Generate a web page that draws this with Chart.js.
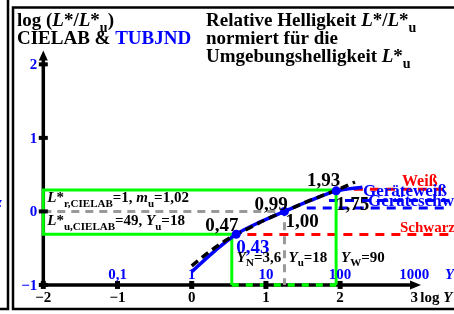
<!DOCTYPE html>
<html>
<head>
<meta charset="utf-8">
<script src="https://cdn.jsdelivr.net/npm/chart.js@4"></script>
<style>
  body { margin: 0; background: #fff; }
  canvas { display: block; }
</style>
</head>
<body>
<canvas id="myChart" width="454" height="314"></canvas>
<script>
// log Y (x) and log(L*/L*u) (y)
var cielabX = [0, 0.25, 0.5, 0.75, 1, 1.25, 1.5, 1.75, 2, 2.2];
var cielabY = [-0.74, -0.54, -0.37, -0.24, -0.11, 0.0, 0.11, 0.21, 0.31, 0.40];

var tubX = [0, 0.32, 0.6, 0.93, 1.25, 1.6, 1.95, 2.3];
var tubY = [-0.82, -0.53, -0.31, -0.14, 0.0, 0.15, 0.28, 0.33];

var markX = [0.6, 1.25, 1.946];
var markY = [-0.31, 0.0, 0.28];

var logYN = 0.54, logYu = 1.25, logYW = 1.946;
var lowLevel = -0.31, midLevel = 0, highLevel = 0.29;
var redWhite = 0.30, redBlack = -0.315, blueWhite = 0.15, blueBlack = 0.046;

var xTicks = [-2, -1, 0, 1, 2, 3];
var xTickLabels = ['\u22122', '\u22121', '0', '1', '2', '3'];
var yTicks = [-1, 0, 1, 2];
var yTickLabels = ['\u22121', '0', '1', '2'];
var yValPos = [-1, 0, 1, 2, 3];
var yValLabels = ['0,1', '1', '10', '100', '1000'];

var upperVals = ['0,47', '0,99', '1,93'];
var lowerVals = ['0,43', '1,00', '1,75'];

var X_MIN = -2.523, X_MAX = 3.474, Y_MIN = -1.334, Y_MAX = 2.814;
var FONT = '"Liberation Serif", "DejaVu Serif", serif';

function pts(xs, ys) {
    return xs.map(function (x, i) { return {x: x, y: ys[i]}; });
}

function lineSet(data, color, width, dash) {
    return {
        data: data, showLine: true, borderColor: color, borderWidth: width,
        borderDash: dash || [], pointRadius: 0, fill: false, tension: 0
    };
}

// "|" toggles italic, "_{..}" is a subscript
function parse(str) {
    var out = [], it = false, buf = '', i = 0;
    while (i < str.length) {
        var ch = str[i];
        if (ch === '|') {
            if (buf) out.push({t: buf, i: it});
            buf = ''; it = !it; i++;
        } else if (ch === '_' && str[i + 1] === '{') {
            if (buf) out.push({t: buf, i: it});
            buf = '';
            var j = str.indexOf('}', i);
            out.push({t: str.slice(i + 2, j), sub: true});
            i = j + 1;
        } else { buf += ch; i++; }
    }
    if (buf) out.push({t: buf, i: it});
    return out;
}

function rich(ctx, x, y, str, size, color) {
    var cx = x;
    ctx.save();
    ctx.textAlign = 'left';
    ctx.textBaseline = 'alphabetic';
    parse(str).forEach(function (p) {
        var s = p.sub ? Math.round(size * 0.72) : size;
        ctx.font = (p.i ? 'italic ' : '') + 'bold ' + s + 'px ' + FONT;
        ctx.fillStyle = color;
        ctx.fillText(p.t, cx, y + (p.sub ? size * 0.3 : 0));
        cx += ctx.measureText(p.t).width;
    });
    ctx.restore();
    return cx;
}

var annotations = {
    id: 'annotations',
    afterDatasetsDraw: function (chart) {
        var ctx = chart.ctx;
        var X = function (v) { return chart.scales.x.getPixelForValue(v); };
        var Y = function (v) { return chart.scales.y.getPixelForValue(v); };
        ctx.save();

        // frames
        ctx.strokeStyle = '#000';
        ctx.lineWidth = 2.5;
        ctx.beginPath();
        ctx.moveTo(8, 0); ctx.lineTo(8, 309); ctx.lineTo(0, 309);
        ctx.moveTo(454, 7.5); ctx.lineTo(13, 7.5); ctx.lineTo(13, 309); ctx.lineTo(454, 309);
        ctx.stroke();

        // arrow heads and ticks
        ctx.fillStyle = '#000';
        ctx.beginPath();
        ctx.moveTo(X(-2), Y(2.19));
        ctx.lineTo(X(-2) - 4.5, Y(2.19) + 10);
        ctx.lineTo(X(-2) + 4.5, Y(2.19) + 10);
        ctx.fill();
        ctx.beginPath();
        ctx.moveTo(X(3.09), Y(-1));
        ctx.lineTo(X(3.09) - 11, Y(-1) - 4.5);
        ctx.lineTo(X(3.09) - 11, Y(-1) + 4.5);
        ctx.fill();
        xTicks.forEach(function (v) {
            if (v < 3) ctx.fillRect(X(v) - 2.5, Y(-1) - 4, 5, 8);
        });
        yTicks.forEach(function (v) {
            ctx.fillRect(X(-2) - 4.5, Y(v) - 2, 9, 4);
        });

        // tick labels
        ctx.textBaseline = 'alphabetic';
        ctx.font = 'bold 15px ' + FONT;
        ctx.fillStyle = '#000';
        ctx.textAlign = 'center';
        xTicks.forEach(function (v, i) {
            ctx.fillText(xTickLabels[i], X(v), Y(-1) + 17);
        });
        rich(ctx, X(3) + 6, Y(-1) + 17, 'log |Y|', 15, '#000');

        ctx.font = 'bold 15px ' + FONT;
        ctx.fillStyle = '#00f';
        ctx.textAlign = 'center';
        yValPos.forEach(function (v, i) {
            ctx.fillText(yValLabels[i], X(v), Y(-1) - 6);
        });
        ctx.textAlign = 'right';
        ctx.textBaseline = 'middle';
        yTicks.forEach(function (v, i) {
            ctx.fillText(yTickLabels[i], X(-2) - 6, Y(v) + 1);
        });
        rich(ctx, 445, Y(-1) - 6, '|Y|', 15, '#00f');
        rich(ctx, -4, 207, '|z|', 15, '#00f');

        // titles
        rich(ctx, 17, 26, 'log (|L|*/|L|*_{u})', 19, '#000');
        var e = rich(ctx, 17, 44, 'CIELAB & ', 19, '#000');
        rich(ctx, e, 44, 'TUBJND', 19, '#00f');
        rich(ctx, 206, 26, 'Relative Helligkeit |L|*/|L|*_{u}', 19, '#000');
        rich(ctx, 206, 44, 'normiert f\u00fcr die', 19, '#000');
        rich(ctx, 206, 62, 'Umgebungshelligkeit |L|*_{u}', 19, '#000');

        // curve labels
        rich(ctx, X(-2) + 4, Y(highLevel) + 12, '|L|*_{r,CIELAB}=1, |m|_{u}=1,02', 15, '#000');
        rich(ctx, X(-2) + 4, Y(lowLevel) - 9, '|L|*_{u,CIELAB}=49, |Y|_{u}=18', 15, '#000');

        rich(ctx, X(markX[0]) - 31, Y(markY[0]) - 3, upperVals[0], 19, '#000');
        rich(ctx, X(markX[0]) + 0, Y(markY[0]) + 19, lowerVals[0], 19, '#00f');
        rich(ctx, X(markX[1]) - 30, Y(markY[1]) - 1, upperVals[1], 19, '#000');
        rich(ctx, X(markX[1]) + 1, Y(markY[1]) + 16, lowerVals[1], 19, '#000');
        rich(ctx, X(markX[2]) - 29, Y(markY[2]) - 5, upperVals[2], 19, '#000');
        rich(ctx, X(markX[2]) + 0, Y(markY[2]) + 19, lowerVals[2], 19, '#000');

        rich(ctx, X(logYN) + 5, Y(-1) - 23, '|Y|_{N}=3,6', 15, '#000');
        rich(ctx, X(logYu) + 4, Y(-1) - 23, '|Y|_{u}=18', 15, '#000');
        rich(ctx, X(logYW) + 5, Y(-1) - 23, '|Y|_{W}=90', 15, '#000');

        rich(ctx, 402, Y(redWhite) - 3, 'Wei\u00df', 16, '#f00');
        rich(ctx, 363, Y(redWhite) + 7, 'Ger\u00e4tewei\u00df', 17, '#00f');
        rich(ctx, 368, Y(blueBlack) - 2, 'Ger\u00e4teschwarz', 17, '#00f');
        rich(ctx, 400, Y(redBlack) - 3, 'Schwarz', 15, '#f00');

        ctx.restore();
    }
};

var datasets = [
    {
        data: pts(markX, markY), showLine: false, pointRadius: 4.5,
        pointBackgroundColor: '#00f', pointBorderWidth: 0
    },
    lineSet(pts(cielabX, cielabY), '#000', 3.5, [8, 5]),
    lineSet(pts(tubX, tubY), '#00f', 3.5),
    lineSet([{x: -2, y: midLevel}, {x: logYu, y: midLevel}, {x: logYu, y: -1}], '#999', 3, [8, 6]),
    lineSet([{x: logYN, y: -1}, {x: logYN, y: lowLevel}, {x: -2, y: lowLevel}, {x: -2, y: highLevel},
             {x: logYW, y: highLevel}, {x: logYW, y: -1}], '#00ff00', 3),
    lineSet([{x: logYN, y: -1}, {x: logYW, y: -1}], '#00ff00', 3.5, [7, 7]),
    lineSet([{x: 1.97, y: redWhite}, {x: X_MAX, y: redWhite}], '#f00', 3, [9, 7]),
    lineSet([{x: 0.75, y: redBlack}, {x: X_MAX, y: redBlack}], '#f00', 3, [9, 7]),
    lineSet([{x: 1.85, y: blueWhite}, {x: X_MAX, y: blueWhite}], '#00f', 3, [9, 7]),
    lineSet([{x: 1.55, y: blueBlack}, {x: X_MAX, y: blueBlack}], '#00f', 3, [9, 7]),
    lineSet([{x: -2, y: -1}, {x: 3.0, y: -1}], '#000', 3.5),
    lineSet([{x: -2, y: -1}, {x: -2, y: 2.1}], '#000', 3.5)
];
datasets[1].tension = 0.4;
datasets[2].tension = 0.4;
datasets[1].cubicInterpolationMode = 'monotone';
datasets[2].cubicInterpolationMode = 'monotone';

var chart = new Chart(document.getElementById('myChart').getContext('2d'), {
    type: 'scatter',
    data: {datasets: datasets},
    options: {
        responsive: false,
        animation: false,
        devicePixelRatio: 1,
        layout: {padding: 0},
        plugins: {legend: {display: false}, tooltip: {enabled: false}},
        scales: {
            x: {type: 'linear', min: X_MIN, max: X_MAX, display: false},
            y: {type: 'linear', min: Y_MIN, max: Y_MAX, display: false}
        }
    },
    plugins: [annotations]
});
</script>
</body>
</html>
